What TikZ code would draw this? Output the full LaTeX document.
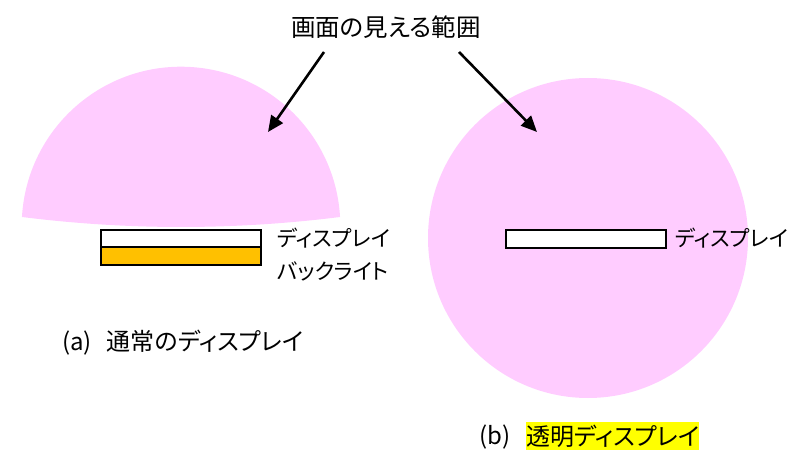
\documentclass[tikz,border=0pt]{standalone}
\usepackage{fontspec}
\setmainfont{Noto Sans CJK JP}[RawFeature={+palt}]
\usetikzlibrary{arrows.meta}
\definecolor{viewpink}{HTML}{FFCCFF}
\definecolor{backorange}{HTML}{FFC000}
\definecolor{hlyellow}{HTML}{FFFF00}
\tikzset{
  txt/.style={inner sep=0pt, font=\fontsize{21.7}{26}\selectfont, text=black},
  captxt/.style={inner sep=0pt, font=\fontsize{24}{28}\selectfont, text=black},
  titletxt/.style={inner sep=0pt, font=\fontsize{24.5}{28}\selectfont, text=black},
  panel/.style={draw=black, line width=2pt, inner sep=0pt},
  pointer/.style={line width=2.6pt, -{Triangle[length=16pt,width=14pt]}},
}
\begin{document}
\begin{tikzpicture}[x=1pt,y=-1pt]
\useasboundingbox (0,0) rectangle (792,454);
% view regions
\fill[viewpink] (181,226) ++(183.24:159.3) arc[start angle=183.24, end angle=356.76, radius=159.3]
  .. controls (234,230.3) and (128,230.3) .. cycle;
\fill[viewpink] (588,238) circle[radius=160];
% title and arrows
\node[titletxt] (title) at (386,27) {画面の見える範囲};
\coordinate (la) at (324,52);
\coordinate (lt) at (268,132);
\coordinate (ra) at (459,52);
\coordinate (rt) at (537,132);
\draw[pointer] (la) -- (lt);
\draw[pointer] (ra) -- (rt);
% left display
\node[panel, fill=white, minimum width=160pt, minimum height=17pt, anchor=north west] (ldisp) at (100,229) {};
\node[panel, fill=backorange, minimum width=160pt, minimum height=18pt, anchor=north west] (lback) at (100,246) {};
\node[txt, anchor=west] (ldlab) at (277,238) {ディスプレイ};
\node[txt, anchor=west] (lblab) at (277,271) {バックライト};
\node[captxt, anchor=west] (capa) at (62,343) {(a)\hspace{15pt}通常のディスプレイ};
% right display
\node[panel, fill=white, minimum width=160pt, minimum height=18pt, anchor=north west] (rdisp) at (505,229) {};
\node[txt, anchor=west] (rdlab) at (675,238) {ディスプレイ};
\node[captxt, anchor=west] (capb) at (479,437) {(b)};
\node[captxt, anchor=west, fill=hlyellow, inner xsep=0pt, minimum height=28pt] (capbh) at (526,436) {透明ディスプレイ};
\end{tikzpicture}
\end{document}
